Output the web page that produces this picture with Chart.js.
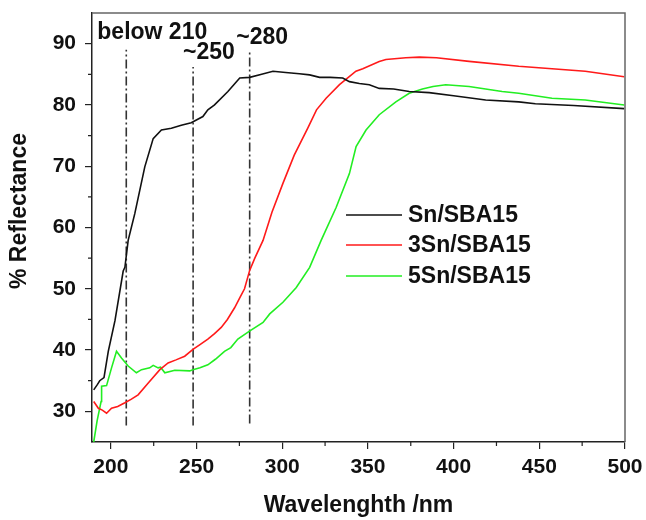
<!DOCTYPE html>
<html>
<head>
<meta charset="utf-8">
<script src="https://cdn.jsdelivr.net/npm/chart.js@4"></script>
<style>
  html, body { margin: 0; padding: 0; background: #fff; }
  #wrap { width: 646px; height: 520px; }
</style>
</head>
<body>
<div id="wrap"><canvas id="myChart" width="646" height="520"></canvas></div>
<script>
// wavelength (nm) / % reflectance
const snX = [190, 192.2, 193.5, 196, 198.5, 202.4, 207.2, 208.2, 210.1, 214, 219.8, 224.7, 229.5, 235.3, 241.1, 246.9, 253.7, 256.6, 260.5, 268.3, 275.2, 281, 288, 294.6, 302, 310, 316, 321.8, 328, 335.3, 339.2, 345, 350.8, 356.6, 365, 374.1, 385.7, 400, 418.7, 438, 447.7, 470, 499.5];
const snY = [33.5, 34.4, 35.0, 35.5, 39.8, 44.8, 52.9, 53.5, 57.9, 62.3, 69.9, 74.5, 75.9, 76.2, 76.7, 77.1, 78.1, 79.2, 80.0, 82.2, 84.4, 84.5, 85.0, 85.5, 85.3, 85.1, 84.9, 84.5, 84.5, 84.4, 83.8, 83.5, 83.3, 82.7, 82.6, 82.2, 82.0, 81.5, 80.8, 80.5, 80.2, 79.9, 79.4];

const sn3X = [190, 192.7, 195, 197.5, 200.4, 204, 208.2, 212, 215.9, 221.7, 228.6, 233.4, 238, 243.1, 247.9, 252, 256.6, 260.5, 264.4, 268, 272.2, 275.2, 278, 281, 284, 288.8, 294, 300.4, 307, 314.9, 320, 325.6, 333.4, 343, 347, 356.6, 360.5, 372.1, 380, 390, 409, 438, 476.8, 499.5];
const sn3Y = [31.6, 30.5, 30.2, 29.7, 30.5, 30.8, 31.4, 32.0, 32.7, 34.6, 36.8, 37.9, 38.4, 39.0, 40.1, 40.9, 41.8, 42.7, 43.7, 45.0, 46.9, 48.5, 50.0, 53.0, 55.0, 57.9, 62.5, 67.2, 71.8, 76.2, 79.2, 81.1, 83.3, 85.5, 85.9, 87.1, 87.4, 87.7, 87.8, 87.7, 87.1, 86.3, 85.5, 84.6];

const sn5X = [190, 192, 194.3, 194.6, 197.5, 200.4, 203.3, 206.2, 210.1, 214.9, 217.9, 222.7, 224.7, 227.6, 229, 231.5, 237.3, 246, 247.9, 252, 256.6, 261, 266.3, 270, 274.1, 280.9, 288.8, 292.7, 300.4, 308.2, 316, 322.7, 331.5, 339.2, 343.1, 348.9, 356.6, 366.3, 374.1, 381.8, 388, 395.4, 409, 428.3, 438, 457.4, 476.8, 499.5];
const sn5Y = [25.0, 28.5, 31.6, 34.1, 34.2, 37.1, 39.8, 38.7, 37.4, 36.3, 36.8, 37.1, 37.5, 37.1, 37.2, 36.3, 36.7, 36.6, 36.8, 37.1, 37.6, 38.5, 39.8, 40.4, 41.8, 43.1, 44.5, 45.9, 47.8, 50.2, 53.5, 57.9, 63.3, 68.8, 73.2, 75.9, 78.4, 80.5, 81.9, 82.6, 83.0, 83.3, 83.0, 82.2, 81.9, 81.1, 80.8, 80.0];

const seriesNames = ['Sn/SBA15', '3Sn/SBA15', '5Sn/SBA15'];
const seriesColors = ['#111111', '#ff1a1a', '#22ee22'];

// dash-dot marker lines: wavelength, bottom, top
const markX = [209, 248, 281];
const markLow = [27.7, 27.7, 28.0];
const markHigh = [89.0, 86.2, 89.0];
// annotation texts with anchor (x, baseline y) in data units
const noteText = ['below 210', '~250', '~280'];
const noteX = [192.1, 257.2, 288.3];
const noteY = [90.8, 87.5, 90.0];
const noteAlign = ['left', 'center', 'center'];

const xMajor = [200, 250, 300, 350, 400, 450, 500];
const xMinor = [225, 275, 325, 375, 425, 475];
const yMajor = [30, 40, 50, 60, 70, 80, 90];
const yMinor = [35, 45, 55, 65, 75, 85];

const pts = (xs, ys) => xs.map((x, i) => ({ x: x, y: ys[i] }));
const FONT = '"Liberation Sans", Arial, sans-serif';

const datasets = [
  { label: seriesNames[0], data: pts(snX, snY), borderColor: seriesColors[0] },
  { label: seriesNames[1], data: pts(sn3X, sn3Y), borderColor: seriesColors[1] },
  { label: seriesNames[2], data: pts(sn5X, sn5Y), borderColor: seriesColors[2] }
].map(d => Object.assign(d, { showLine: true, pointRadius: 0, borderWidth: 1.6, tension: 0 }));

markX.forEach((x, i) => {
  datasets.push({
    label: 'mark' + i,
    data: [{ x: x, y: markLow[i] }, { x: x, y: markHigh[i] }],
    showLine: true, pointRadius: 0, borderWidth: 1.6,
    borderColor: '#333333', borderDash: [9, 3, 2, 3]
  });
});

const extras = {
  id: 'extras',
  afterDraw(chart) {
    const c = chart.ctx, xs = chart.scales.x, ys = chart.scales.y, a = chart.chartArea;
    c.save();
    // frame
    c.lineWidth = 1.5;
    c.strokeStyle = '#666';
    c.beginPath();
    c.moveTo(a.left, a.top); c.lineTo(a.right, a.top); c.lineTo(a.right, a.bottom);
    c.stroke();
    // minor ticks
    c.strokeStyle = '#222';
    c.lineWidth = 1.2;
    c.beginPath();
    xMinor.forEach(v => { const p = xs.getPixelForValue(v); c.moveTo(p, a.bottom); c.lineTo(p, a.bottom + 4); });
    yMinor.forEach(v => { const p = ys.getPixelForValue(v); c.moveTo(a.left, p); c.lineTo(a.left - 4, p); });
    c.stroke();
    // annotations
    c.fillStyle = '#111';
    c.font = 'bold 23px ' + FONT;
    c.textBaseline = 'alphabetic';
    noteText.forEach((t, i) => {
      c.textAlign = noteAlign[i];
      c.fillText(t, xs.getPixelForValue(noteX[i]), ys.getPixelForValue(noteY[i]));
    });
    // legend
    const rows = [215, 245, 276];
    c.textAlign = 'left';
    c.textBaseline = 'middle';
    seriesNames.forEach((n, i) => {
      c.strokeStyle = seriesColors[i];
      c.lineWidth = 1.6;
      c.beginPath(); c.moveTo(346, rows[i]); c.lineTo(402, rows[i]); c.stroke();
      c.fillStyle = '#111';
      c.fillText(n, 408, rows[i] + 1);
    });
    // axis titles
    c.textAlign = 'center';
    c.fillText('Wavelenghth /nm', (a.left + a.right) / 2, 506);
    c.translate(20, 211);
    c.rotate(-Math.PI / 2);
    c.fillText('% Reflectance', 0, 0);
    c.restore();
  }
};

new Chart(document.getElementById('myChart'), {
  type: 'scatter',
  data: { datasets: datasets },
  options: {
    responsive: false,
    animation: false,
    layout: { padding: { top: 13, right: 21, left: 0, bottom: 0 } },
    plugins: { legend: { display: false }, tooltip: { enabled: false } },
    scales: {
      x: {
        type: 'linear', min: 189, max: 500,
        afterFit: s => { s.height = 78; s.paddingLeft = 0; s.paddingRight = 0; },
        afterBuildTicks: s => { s.ticks = xMajor.map(v => ({ value: v })); },
        grid: { drawOnChartArea: false, drawTicks: true, tickLength: 7, color: '#222', lineWidth: 1.2 },
        border: { display: true, color: '#222', width: 1.5 },
        ticks: { color: '#111', padding: 6, maxRotation: 0, font: { family: FONT, size: 21, weight: 'bold' } }
      },
      y: {
        type: 'linear', min: 25, max: 95,
        afterFit: s => { s.width = 92; s.paddingTop = 0; s.paddingBottom = 0; },
        afterBuildTicks: s => { s.ticks = yMajor.map(v => ({ value: v })); },
        grid: { drawOnChartArea: false, drawTicks: true, tickLength: 7, color: '#222', lineWidth: 1.2 },
        border: { display: true, color: '#222', width: 1.5 },
        ticks: { color: '#111', padding: 9, font: { family: FONT, size: 21, weight: 'bold' } }
      }
    }
  },
  plugins: [extras]
});
</script>
</body>
</html>
